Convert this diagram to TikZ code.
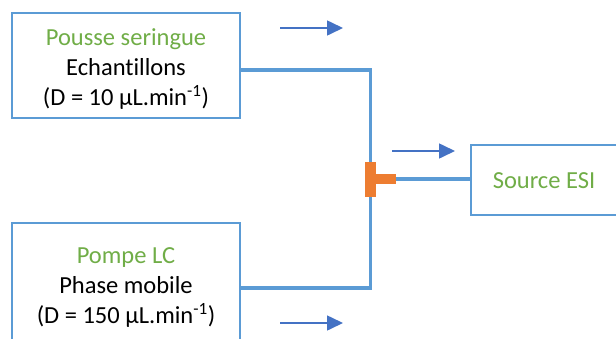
\documentclass[tikz,border=0pt]{standalone}
\usepackage{fontspec}
\setmainfont{Carlito}[Ligatures=NoCommon]
\usetikzlibrary{arrows.meta}
\definecolor{boxblue}{RGB}{91,155,213}
\definecolor{titlegreen}{RGB}{112,173,71}
\definecolor{flowblue}{RGB}{68,114,196}
\definecolor{teeorange}{RGB}{237,125,49}
\tikzset{
  box/.style={draw=boxblue,line width=1.6pt,inner sep=0pt},
  boxtext/.style={align=center,inner sep=0pt,font=\fontsize{24.5}{30}\selectfont},
  pipe/.style={draw=boxblue,line width=3.5pt},
  teepart/.style={fill=teeorange,inner sep=0pt},
  flow/.style={draw=flowblue,line width=1.6pt,-{Triangle[length=16pt,width=15pt]}}
}
\begin{document}
\begin{tikzpicture}[x=1pt,y=-1pt]
  \clip (0,0) rectangle (616,338);
  % boxes
  \node[box,minimum width=228pt,minimum height=105pt] (seringue) at (126,65.5) {};
  \node[boxtext] (seringuetext) at (126,69.5)
    {\textcolor{titlegreen}{Pousse seringue}\\Echantillons\\(D = 10 µL.min\textsuperscript{-1})};
  \node[box,minimum width=228pt,minimum height=122pt] (pompe) at (126,284) {};
  \node[boxtext] (pompetext) at (126,288)
    {\textcolor{titlegreen}{Pompe LC}\\Phase mobile\\(D = 150 µL.min\textsuperscript{-1})};
  \node[box,minimum width=146pt,minimum height=70pt] (esi) at (544,180) {};
  \node[boxtext] (esitext) at (544,181) {\textcolor{titlegreen}{Source ESI}};
  % pipes
  \coordinate (bend1) at (370.5,70);
  \coordinate (bend2) at (370.5,288);
  \draw[pipe] (seringue.east |- bend1) -- (bend1) -- (bend2) -- (pompe.east |- bend2);
  \node[teepart,minimum width=10.5pt,minimum height=35pt] (tee) at (370.5,179) {};
  \node[teepart,minimum width=20pt,minimum height=10pt,anchor=west] (teestub) at (tee.east |- 0,179) {};
  \draw[pipe] (teestub.east) -- (esi.west |- teestub.east);
  % flow arrows
  \coordinate (flowa) at (280,28);
  \coordinate (flowb) at (392,151);
  \coordinate (flowc) at (280,323);
  \draw[flow] (flowa) -- ++(63,0);
  \draw[flow] (flowb) -- ++(63,0);
  \draw[flow] (flowc) -- ++(63,0);
\end{tikzpicture}
\end{document}
